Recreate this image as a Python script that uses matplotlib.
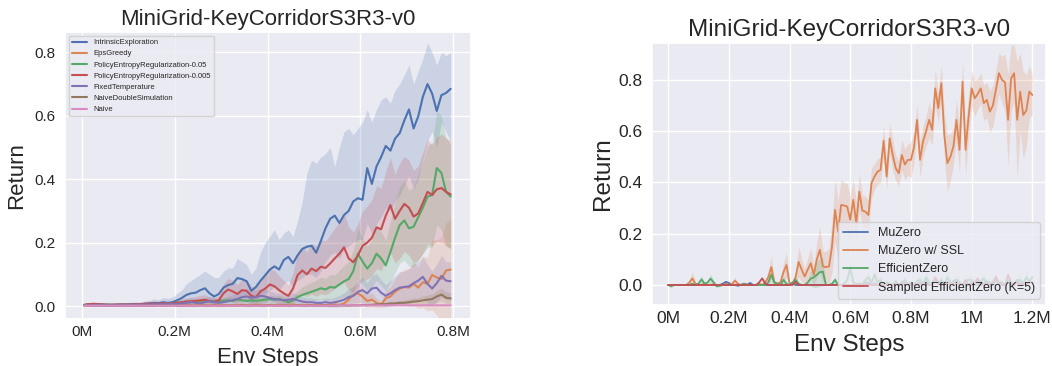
import matplotlib as mpl
import numpy as np
import seaborn as sns

mpl.use("Agg")
import matplotlib.pyplot as plt  # noqa: E402
from matplotlib.ticker import FuncFormatter  # noqa: E402

sns.set_theme(style="darkgrid")
plt.rcParams["font.family"] = ["Liberation Sans", "DejaVu Sans"]

PAL = sns.color_palette("deep")
TITLE = "MiniGrid-KeyCorridorS3R3-v0"

# ---- left panel: exploration variants (env steps in millions) ----
steps_l = np.round(np.arange(80) * 0.01 + 0.005, 3)

intrinsic_mean = [
    0.003, 0.004, 0.003, 0.004, 0.003, 0.004, 0.003, 0.004, 0.005, 0.004,
    0.005, 0.006, 0.005, 0.007, 0.008, 0.010, 0.009, 0.012, 0.010, 0.012,
    0.018, 0.025, 0.035, 0.040, 0.042, 0.050, 0.056, 0.040, 0.030, 0.038,
    0.058, 0.066, 0.070, 0.088, 0.085, 0.078, 0.048, 0.060, 0.080, 0.097,
    0.115, 0.125, 0.115, 0.145, 0.155, 0.135, 0.160, 0.180, 0.187, 0.190,
    0.168, 0.205, 0.245, 0.275, 0.285, 0.262, 0.287, 0.300, 0.330, 0.340,
    0.335, 0.435, 0.385, 0.440, 0.470, 0.505, 0.490, 0.528, 0.545, 0.585,
    0.620, 0.560, 0.598, 0.660, 0.700, 0.670, 0.615, 0.665, 0.672, 0.685]
intrinsic_hi = [
    0.008, 0.009, 0.008, 0.009, 0.008, 0.009, 0.008, 0.010, 0.011, 0.010,
    0.012, 0.013, 0.012, 0.016, 0.018, 0.022, 0.020, 0.026, 0.024, 0.028,
    0.040, 0.050, 0.070, 0.080, 0.090, 0.100, 0.110, 0.100, 0.090, 0.090,
    0.110, 0.120, 0.120, 0.150, 0.140, 0.130, 0.100, 0.120, 0.170, 0.200,
    0.220, 0.240, 0.210, 0.230, 0.240, 0.220, 0.270, 0.330, 0.420, 0.460,
    0.450, 0.470, 0.480, 0.500, 0.440, 0.500, 0.550, 0.560, 0.540, 0.560,
    0.580, 0.620, 0.580, 0.620, 0.650, 0.660, 0.640, 0.680, 0.700, 0.730,
    0.760, 0.700, 0.740, 0.780, 0.830, 0.800, 0.760, 0.800, 0.790, 0.800]
intrinsic_lo = [
    0.000, 0.000, 0.000, 0.000, 0.000, 0.000, 0.000, 0.000, 0.000, 0.000,
    0.000, 0.000, 0.000, 0.001, 0.001, 0.002, 0.001, 0.002, 0.001, 0.002,
    0.004, 0.006, 0.010, 0.012, 0.010, 0.015, 0.015, 0.010, 0.005, 0.010,
    0.020, 0.025, 0.020, 0.030, 0.030, 0.030, 0.010, 0.020, 0.030, 0.040,
    0.050, 0.060, 0.050, 0.070, 0.080, 0.060, 0.080, 0.090, 0.100, 0.100,
    0.090, 0.110, 0.140, 0.160, 0.170, 0.150, 0.180, 0.190, 0.200, 0.210,
    0.210, 0.260, 0.230, 0.260, 0.280, 0.310, 0.300, 0.330, 0.350, 0.380,
    0.410, 0.370, 0.400, 0.460, 0.520, 0.550, 0.500, 0.580, 0.550, 0.520]

eps_mean = [
    0.002, 0.002, 0.001, 0.002, 0.002, 0.001, 0.002, 0.001, 0.002, 0.002,
    0.001, 0.002, 0.002, 0.001, 0.002, 0.002, 0.003, 0.002, 0.002, 0.003,
    0.003, 0.002, 0.003, 0.003, 0.002, 0.003, 0.003, 0.002, 0.003, 0.003,
    0.003, 0.002, 0.003, 0.003, 0.004, 0.003, 0.003, 0.004, 0.003, 0.003,
    0.004, 0.003, 0.004, 0.003, 0.004, 0.004, 0.003, 0.004, 0.004, 0.003,
    0.004, 0.004, 0.003, 0.004, 0.005, 0.004, 0.008, 0.020, 0.035, 0.040,
    0.030, 0.016, 0.020, 0.010, 0.004, 0.024, 0.030, 0.045, 0.055, 0.060,
    0.058, 0.070, 0.058, 0.075, 0.070, 0.098, 0.090, 0.085, 0.112, 0.115]
eps_sd = [
    0.003, 0.003, 0.003, 0.003, 0.003, 0.003, 0.003, 0.003, 0.003, 0.003,
    0.003, 0.003, 0.003, 0.003, 0.003, 0.003, 0.003, 0.003, 0.003, 0.003,
    0.003, 0.003, 0.003, 0.003, 0.003, 0.003, 0.003, 0.003, 0.003, 0.003,
    0.003, 0.003, 0.003, 0.003, 0.004, 0.003, 0.003, 0.004, 0.003, 0.003,
    0.004, 0.003, 0.004, 0.003, 0.004, 0.004, 0.003, 0.004, 0.004, 0.003,
    0.004, 0.004, 0.003, 0.004, 0.005, 0.004, 0.008, 0.015, 0.025, 0.030,
    0.028, 0.020, 0.022, 0.015, 0.010, 0.025, 0.030, 0.040, 0.050, 0.055,
    0.060, 0.070, 0.065, 0.080, 0.085, 0.110, 0.120, 0.130, 0.150, 0.160]

ent05_mean = [
    0.003, 0.005, 0.006, 0.006, 0.005, 0.004, 0.004, 0.003, 0.004, 0.004,
    0.005, 0.004, 0.005, 0.005, 0.006, 0.006, 0.007, 0.007, 0.008, 0.008,
    0.010, 0.010, 0.012, 0.012, 0.014, 0.013, 0.015, 0.016, 0.014, 0.015,
    0.016, 0.018, 0.016, 0.020, 0.018, 0.016, 0.018, 0.016, 0.018, 0.020,
    0.022, 0.020, 0.022, 0.018, 0.012, 0.018, 0.028, 0.035, 0.040, 0.045,
    0.050, 0.056, 0.052, 0.060, 0.058, 0.068, 0.078, 0.085, 0.110, 0.165,
    0.140, 0.118, 0.135, 0.165, 0.150, 0.128, 0.170, 0.215, 0.255, 0.270,
    0.245, 0.250, 0.280, 0.310, 0.345, 0.350, 0.435, 0.420, 0.360, 0.345]
ent05_sd = [
    0.004, 0.004, 0.004, 0.004, 0.004, 0.004, 0.004, 0.004, 0.004, 0.004,
    0.005, 0.005, 0.005, 0.005, 0.005, 0.005, 0.005, 0.005, 0.005, 0.005,
    0.008, 0.008, 0.008, 0.008, 0.008, 0.008, 0.008, 0.008, 0.008, 0.008,
    0.010, 0.010, 0.010, 0.010, 0.010, 0.010, 0.010, 0.010, 0.010, 0.010,
    0.012, 0.012, 0.012, 0.012, 0.010, 0.014, 0.020, 0.025, 0.028, 0.030,
    0.032, 0.035, 0.035, 0.040, 0.040, 0.045, 0.050, 0.055, 0.065, 0.080,
    0.075, 0.070, 0.075, 0.085, 0.085, 0.080, 0.095, 0.110, 0.120, 0.125,
    0.120, 0.125, 0.135, 0.145, 0.160, 0.165, 0.180, 0.180, 0.170, 0.165]

ent005_mean = [
    0.004, 0.006, 0.007, 0.006, 0.005, 0.004, 0.004, 0.005, 0.004, 0.005,
    0.005, 0.006, 0.006, 0.007, 0.008, 0.008, 0.007, 0.009, 0.008, 0.009,
    0.010, 0.012, 0.014, 0.015, 0.016, 0.018, 0.020, 0.015, 0.014, 0.018,
    0.040, 0.052, 0.046, 0.038, 0.050, 0.048, 0.032, 0.028, 0.046, 0.055,
    0.068, 0.062, 0.050, 0.040, 0.032, 0.055, 0.098, 0.112, 0.100, 0.118,
    0.110, 0.124, 0.120, 0.134, 0.150, 0.165, 0.185, 0.150, 0.138, 0.160,
    0.190, 0.200, 0.215, 0.248, 0.242, 0.285, 0.318, 0.275, 0.300, 0.322,
    0.310, 0.282, 0.292, 0.325, 0.360, 0.350, 0.368, 0.372, 0.360, 0.352]
ent005_sd = [
    0.004, 0.004, 0.004, 0.004, 0.004, 0.004, 0.004, 0.004, 0.004, 0.004,
    0.005, 0.005, 0.005, 0.005, 0.005, 0.005, 0.005, 0.005, 0.005, 0.005,
    0.008, 0.010, 0.012, 0.012, 0.014, 0.015, 0.016, 0.014, 0.012, 0.014,
    0.030, 0.035, 0.035, 0.030, 0.035, 0.035, 0.030, 0.030, 0.040, 0.045,
    0.050, 0.050, 0.045, 0.040, 0.035, 0.050, 0.070, 0.075, 0.070, 0.080,
    0.080, 0.085, 0.085, 0.090, 0.095, 0.100, 0.110, 0.100, 0.095, 0.100,
    0.110, 0.115, 0.120, 0.130, 0.130, 0.140, 0.150, 0.140, 0.150, 0.150,
    0.150, 0.145, 0.150, 0.160, 0.165, 0.160, 0.165, 0.170, 0.170, 0.170]

fixed_mean = [
    0.003, 0.004, 0.003, 0.004, 0.004, 0.003, 0.004, 0.003, 0.004, 0.004,
    0.004, 0.005, 0.004, 0.005, 0.005, 0.006, 0.005, 0.006, 0.006, 0.007,
    0.006, 0.008, 0.010, 0.012, 0.010, 0.008, 0.012, 0.015, 0.012, 0.010,
    0.012, 0.015, 0.018, 0.022, 0.028, 0.030, 0.026, 0.028, 0.032, 0.030,
    0.025, 0.022, 0.020, 0.018, 0.020, 0.022, 0.018, 0.014, 0.012, 0.012,
    0.010, 0.010, 0.012, 0.010, 0.012, 0.015, 0.020, 0.028, 0.032, 0.045,
    0.050, 0.040, 0.055, 0.058, 0.042, 0.032, 0.040, 0.050, 0.058, 0.060,
    0.062, 0.072, 0.080, 0.092, 0.070, 0.055, 0.072, 0.095, 0.080, 0.078]
fixed_sd = [
    0.004, 0.004, 0.004, 0.004, 0.004, 0.004, 0.004, 0.004, 0.004, 0.004,
    0.004, 0.004, 0.004, 0.004, 0.004, 0.004, 0.004, 0.004, 0.004, 0.004,
    0.008, 0.010, 0.012, 0.014, 0.012, 0.010, 0.014, 0.016, 0.014, 0.012,
    0.014, 0.016, 0.018, 0.020, 0.022, 0.024, 0.022, 0.022, 0.024, 0.024,
    0.022, 0.020, 0.020, 0.018, 0.018, 0.020, 0.018, 0.016, 0.014, 0.014,
    0.012, 0.012, 0.014, 0.014, 0.016, 0.018, 0.022, 0.026, 0.030, 0.035,
    0.040, 0.035, 0.040, 0.045, 0.040, 0.035, 0.040, 0.045, 0.050, 0.050,
    0.055, 0.060, 0.060, 0.065, 0.060, 0.055, 0.060, 0.065, 0.060, 0.060]

double_mean = [
    0.001, 0.002, 0.001, 0.001, 0.002, 0.001, 0.001, 0.002, 0.001, 0.001,
    0.002, 0.001, 0.001, 0.002, 0.001, 0.001, 0.002, 0.001, 0.001, 0.002,
    0.001, 0.001, 0.002, 0.001, 0.001, 0.002, 0.001, 0.001, 0.002, 0.001,
    0.001, 0.002, 0.001, 0.001, 0.002, 0.001, 0.001, 0.002, 0.001, 0.001,
    0.002, 0.001, 0.001, 0.002, 0.001, 0.001, 0.002, 0.001, 0.001, 0.002,
    0.001, 0.001, 0.002, 0.001, 0.001, 0.002, 0.002, 0.001, 0.002, 0.002,
    0.003, 0.003, 0.004, 0.005, 0.006, 0.006, 0.008, 0.008, 0.010, 0.010,
    0.012, 0.014, 0.015, 0.018, 0.020, 0.022, 0.030, 0.036, 0.026, 0.024]
double_sd = [
    0.002, 0.002, 0.002, 0.002, 0.002, 0.002, 0.002, 0.002, 0.002, 0.002,
    0.002, 0.002, 0.002, 0.002, 0.002, 0.002, 0.002, 0.002, 0.002, 0.002,
    0.002, 0.002, 0.002, 0.002, 0.002, 0.002, 0.002, 0.002, 0.002, 0.002,
    0.002, 0.002, 0.002, 0.002, 0.002, 0.002, 0.002, 0.002, 0.002, 0.002,
    0.002, 0.002, 0.002, 0.002, 0.002, 0.002, 0.002, 0.002, 0.002, 0.002,
    0.002, 0.002, 0.002, 0.002, 0.002, 0.002, 0.002, 0.002, 0.003, 0.003,
    0.004, 0.004, 0.005, 0.005, 0.006, 0.006, 0.007, 0.007, 0.008, 0.008,
    0.010, 0.011, 0.012, 0.014, 0.015, 0.016, 0.018, 0.020, 0.018, 0.018]

naive_mean = [
    0.001, 0.001, 0.001, 0.001, 0.001, 0.001, 0.001, 0.001, 0.001, 0.001,
    0.001, 0.001, 0.001, 0.001, 0.001, 0.001, 0.001, 0.001, 0.001, 0.001,
    0.001, 0.001, 0.001, 0.001, 0.001, 0.001, 0.001, 0.001, 0.001, 0.001,
    0.001, 0.001, 0.001, 0.001, 0.001, 0.001, 0.001, 0.001, 0.001, 0.001,
    0.001, 0.001, 0.001, 0.001, 0.001, 0.001, 0.001, 0.001, 0.001, 0.001,
    0.001, 0.001, 0.001, 0.001, 0.001, 0.002, 0.002, 0.002, 0.002, 0.002,
    0.002, 0.002, 0.002, 0.002, 0.002, 0.002, 0.002, 0.002, 0.002, 0.002,
    0.002, 0.002, 0.002, 0.002, 0.002, 0.002, 0.002, 0.002, 0.002, 0.002]

# ---- right panel: MuZero family (env steps in millions) ----
steps_r = np.round(np.arange(121) * 0.01, 2)

muzero_mean = [
    0.0, 0.0, 0.0, 0.0, 0.0, 0.0, 0.0, 0.0, 0.0, 0.0,
    0.0, 0.0, 0.0, 0.0, 0.0, 0.0, 0.0, 0.0, 0.005, 0.012,
    0.008, 0.0, 0.0, -0.003, 0.0, 0.005, 0.0, 0.008, 0.0, 0.0,
    0.0, 0.0, 0.0, 0.0, 0.0, 0.0, 0.0, 0.0, 0.0, 0.0,
    0.0, 0.008, 0.0, 0.0, 0.0, 0.0, 0.0, 0.0, 0.0, 0.0,
    0.0, 0.0, 0.0, 0.0, 0.0, 0.0, 0.0, 0.0, 0.0, 0.0,
    0.0, 0.0, 0.005, 0.0, 0.0, 0.010, 0.0, 0.0, 0.005, 0.0,
    0.0, 0.005, 0.0, 0.0, 0.0, 0.008, 0.0, 0.0, 0.010, 0.0,
    0.005, 0.0, 0.0, 0.010, 0.0, 0.015, 0.0, 0.010, 0.020, 0.005,
    0.010, 0.0, 0.010, 0.0, 0.015, 0.020, 0.005, 0.0, 0.010, 0.0,
    0.010, 0.0, 0.015, 0.0, 0.005, 0.015, 0.0, 0.010, 0.0, 0.005,
    0.005, 0.0, 0.010, 0.0, 0.005, 0.020, 0.0, 0.010, 0.0, 0.010,
    0.010]

ssl_mean = [
    0.0, 0.0, 0.0, 0.0, 0.0, 0.0, 0.0, 0.010, 0.026, 0.005,
    0.0, 0.0, 0.005, 0.0, 0.0, 0.003, 0.0, 0.0, 0.0, 0.005,
    0.0, 0.003, 0.017, 0.005, 0.0, 0.0, 0.003, 0.0, 0.0, 0.0,
    0.005, 0.0, 0.010, 0.030, 0.070, 0.010, 0.005, 0.010, 0.050, 0.078,
    0.006, 0.005, 0.030, 0.090, 0.060, 0.033, 0.060, 0.085, 0.040, 0.100,
    0.137, 0.072, 0.070, 0.072, 0.150, 0.293, 0.208, 0.312, 0.310, 0.306,
    0.254, 0.332, 0.241, 0.364, 0.290, 0.286, 0.273, 0.397, 0.423, 0.442,
    0.449, 0.563, 0.423, 0.572, 0.507, 0.455, 0.436, 0.507, 0.470, 0.488,
    0.488, 0.536, 0.644, 0.488, 0.560, 0.600, 0.644, 0.605, 0.767, 0.690,
    0.787, 0.585, 0.475, 0.500, 0.540, 0.644, 0.527, 0.793, 0.527, 0.657,
    0.767, 0.728, 0.745, 0.767, 0.709, 0.722, 0.676, 0.700, 0.761, 0.826,
    0.800, 0.790, 0.644, 0.806, 0.826, 0.644, 0.754, 0.663, 0.680, 0.754,
    0.741]
ssl_sd = [
    0.0, 0.0, 0.0, 0.0, 0.0, 0.0, 0.0, 0.010, 0.025, 0.005,
    0.0, 0.0, 0.005, 0.0, 0.0, 0.003, 0.0, 0.0, 0.0, 0.005,
    0.0, 0.003, 0.015, 0.005, 0.0, 0.0, 0.003, 0.0, 0.0, 0.0,
    0.005, 0.0, 0.010, 0.025, 0.045, 0.010, 0.005, 0.010, 0.035, 0.050,
    0.008, 0.008, 0.025, 0.060, 0.045, 0.030, 0.045, 0.060, 0.040, 0.070,
    0.090, 0.060, 0.060, 0.070, 0.100, 0.120, 0.120, 0.100, 0.090, 0.090,
    0.090, 0.080, 0.080, 0.070, 0.060, 0.060, 0.060, 0.060, 0.050, 0.050,
    0.050, 0.060, 0.050, 0.060, 0.060, 0.050, 0.050, 0.060, 0.060, 0.060,
    0.070, 0.060, 0.060, 0.070, 0.060, 0.060, 0.070, 0.060, 0.070, 0.060,
    0.070, 0.090, 0.110, 0.090, 0.070, 0.080, 0.090, 0.080, 0.100, 0.080,
    0.070, 0.070, 0.060, 0.060, 0.070, 0.070, 0.080, 0.080, 0.080, 0.080,
    0.090, 0.110, 0.180, 0.130, 0.110, 0.230, 0.150, 0.170, 0.140, 0.100,
    0.080]

ez_mean = [
    0.0, -0.005, 0.0, 0.0, 0.0, 0.0, 0.0, 0.0, 0.005, 0.0,
    0.005, 0.022, 0.005, 0.010, 0.025, 0.010, -0.005, -0.003, 0.0, 0.0,
    0.0, 0.0, 0.0, 0.0, 0.0, 0.005, 0.0, 0.0, 0.0, 0.0,
    0.0, 0.0, 0.0, 0.010, 0.040, 0.010, 0.005, 0.0, 0.020, 0.005,
    0.0, 0.010, 0.020, 0.005, 0.0, 0.0, 0.010, 0.025, 0.030, 0.040,
    0.050, 0.052, 0.0, 0.0, 0.005, 0.020, 0.0, 0.0, 0.005, 0.020,
    0.065, 0.010, 0.0, 0.005, 0.0, 0.020, 0.030, 0.010, 0.040, 0.010,
    0.020, 0.0, 0.010, 0.005, 0.0, 0.015, 0.0, 0.010, 0.020, 0.005,
    0.010, 0.0, 0.015, 0.020, 0.005, 0.030, 0.010, 0.0, 0.020, 0.010,
    0.020, 0.005, 0.030, 0.010, 0.0, 0.020, 0.010, 0.0, 0.015, 0.020,
    0.020, 0.005, 0.0, 0.015, 0.025, 0.005, 0.010, 0.0, 0.020, 0.010,
    0.010, 0.0, 0.020, 0.005, 0.0, 0.015, 0.020, 0.005, 0.030, 0.015,
    0.030]
ez_sd = [
    0.0, 0.005, 0.0, 0.0, 0.0, 0.0, 0.0, 0.0, 0.005, 0.0,
    0.005, 0.015, 0.005, 0.008, 0.018, 0.008, 0.005, 0.003, 0.0, 0.0,
    0.0, 0.0, 0.0, 0.0, 0.0, 0.005, 0.0, 0.0, 0.0, 0.0,
    0.0, 0.0, 0.0, 0.008, 0.030, 0.008, 0.005, 0.0, 0.015, 0.005,
    0.0, 0.008, 0.015, 0.005, 0.0, 0.0, 0.010, 0.030, 0.040, 0.050,
    0.055, 0.055, 0.0, 0.0, 0.005, 0.015, 0.0, 0.0, 0.005, 0.015,
    0.045, 0.010, 0.0, 0.005, 0.0, 0.015, 0.020, 0.010, 0.030, 0.010,
    0.015, 0.0, 0.010, 0.005, 0.0, 0.010, 0.0, 0.010, 0.015, 0.005,
    0.010, 0.0, 0.010, 0.015, 0.005, 0.020, 0.010, 0.0, 0.015, 0.010,
    0.015, 0.005, 0.020, 0.010, 0.0, 0.015, 0.010, 0.0, 0.010, 0.015,
    0.015, 0.005, 0.0, 0.010, 0.020, 0.005, 0.010, 0.0, 0.015, 0.010,
    0.010, 0.0, 0.015, 0.005, 0.0, 0.010, 0.015, 0.005, 0.020, 0.010,
    0.020]

sampled_mean = [
    0.0, 0.0, 0.0, 0.0, 0.0, 0.0, 0.0, 0.0, 0.0, 0.0,
    0.0, 0.0, 0.0, 0.0, 0.0, 0.0, 0.0, 0.0, 0.0, 0.0,
    0.0, 0.0, 0.0, 0.0, 0.0, 0.0, 0.0, 0.0, 0.0, 0.0,
    0.010, 0.026, 0.005, 0.0, 0.0, 0.0, 0.0, 0.0, 0.0, 0.0,
    0.0, 0.0, 0.013, 0.0, 0.0, 0.0, 0.0, 0.0, 0.0, 0.0,
    0.0, 0.0, 0.0, 0.0, 0.0, 0.0, 0.0, 0.0, 0.0, 0.0,
    0.0, 0.0, 0.0, 0.005, 0.0, 0.0, 0.010, 0.0, 0.0, 0.0,
    0.0, 0.0, 0.005, 0.0, 0.0, 0.0, 0.0, 0.010, 0.0, 0.0,
    0.0, 0.005, 0.0, 0.0, 0.010, 0.0, 0.0, 0.0, 0.030, 0.005,
    0.0, 0.0, 0.010, 0.0, 0.0, 0.010, 0.0, 0.0, 0.020, 0.0,
    0.0, 0.010, 0.025, 0.0, 0.0, 0.005, 0.0, 0.010, 0.032, 0.0,
    0.0, 0.0, 0.040, 0.010, 0.0, 0.010, 0.0, 0.005, 0.0, 0.010,
    0.010]


def _msteps(x, _=None):
    return f"{round(x, 1):g}M"


def _style(ax, fs_tick, fs_label, fs_title, xpad, xlpad, ylpad):
    ax.set_title(TITLE, fontsize=fs_title, pad=5)
    ax.set_xlabel("Env Steps", fontsize=fs_label, labelpad=xlpad)
    ax.set_ylabel("Return", fontsize=fs_label, labelpad=ylpad)
    ax.tick_params(axis="x", labelsize=fs_tick, length=0, pad=xpad)
    ax.tick_params(axis="y", labelsize=fs_tick, length=0, pad=7)
    ax.xaxis.set_major_formatter(FuncFormatter(_msteps))
    ax.set_yticks([0.0, 0.2, 0.4, 0.6, 0.8])
    ax.yaxis.set_major_formatter(FuncFormatter(lambda v, _: f"{v:.1f}"))


fig = plt.figure(figsize=(10.52, 3.66), dpi=100)
axL = fig.add_axes([0.0618, 0.1284, 0.386, 0.784])
axR = fig.add_axes([0.6198, 0.1667, 0.3745, 0.716])

# left: mean with shaded spread
left = [
    ("IntrinsicExploration", intrinsic_mean, intrinsic_lo, intrinsic_hi),
    ("EpsGreedy", eps_mean, None, eps_sd),
    ("PolicyEntropyRegularization-0.05", ent05_mean, None, ent05_sd),
    ("PolicyEntropyRegularization-0.005", ent005_mean, None, ent005_sd),
    ("FixedTemperature", fixed_mean, None, fixed_sd),
    ("NaiveDoubleSimulation", double_mean, None, double_sd),
    ("Naive", naive_mean, None, None),
]
for c, (name, m, lo, hi) in zip(PAL, left):
    m = np.asarray(m)
    if lo is not None:
        axL.fill_between(steps_l, lo, hi, color=c, alpha=0.2, lw=0)
    elif hi is not None:
        sd = np.asarray(hi)
        axL.fill_between(steps_l, m - sd, m + sd, color=c, alpha=0.2, lw=0)
    axL.plot(steps_l, m, color=c, lw=1.5, label=name)
axL.set_xlim(-0.0367, 0.839); axL.set_ylim(-0.041, 0.864)
axL.set_xticks([0, 0.2, 0.4, 0.6, 0.8])
_style(axL, 11, 16, 16, 4, 6, 5)
axL.legend(loc="upper left", fontsize=5.5)

# right
right = [
    ("MuZero", muzero_mean, None),
    ("MuZero w/ SSL", ssl_mean, ssl_sd),
    ("EfficientZero", ez_mean, ez_sd),
    ("Sampled EfficientZero (K=5)", sampled_mean, None),
]
for c, (name, m, sd) in zip(PAL, right):
    m = np.asarray(m)
    if sd is not None:
        sd = np.asarray(sd)
        axR.fill_between(steps_r, m - sd, m + sd, color=c, alpha=0.2, lw=0)
    axR.plot(steps_r, m, color=c, lw=1.3, label=name)
axR.set_xlim(-0.053, 1.245); axR.set_ylim(-0.078, 0.944)
axR.set_xticks([0, 0.2, 0.4, 0.6, 0.8, 1.0, 1.2])
_style(axR, 12.5, 17.5, 17.5, 4.5, 5.5, 3)
axR.legend(loc="lower right", fontsize=9)

fig.savefig("out.png", dpi=100)
